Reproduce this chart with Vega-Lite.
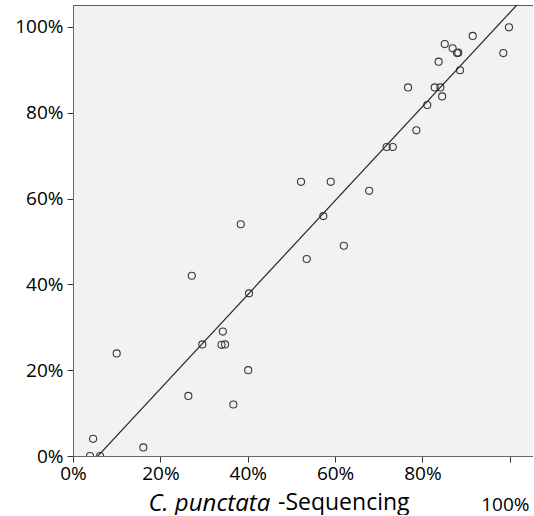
{
  "$schema": "https://vega.github.io/schema/vega-lite/v6.json",
  "width": 460,
  "height": 451,
  "padding": {"left": 5, "top": 5, "right": 0, "bottom": 0},
  "config": {
    "view": {"fill": "#f2f2f2", "stroke": "#5a5a5a", "strokeWidth": 1},
    "font": "Open Sans"
  },
  "title": {
    "text": "-Sequencing",
    "orient": "bottom",
    "anchor": "start",
    "frame": "group",
    "dx": 205,
    "dy": -16,
    "fontSize": 23,
    "fontWeight": "normal",
    "font": "Open Sans",
    "color": "#000000",
    "baseline": "middle"
  },
  "layer": [
    {
      "data": {
        "values": [
          {"seq": 0.100, "ref": 0.239},
          {"seq": 0.046, "ref": 0.040},
          {"seq": 0.039, "ref": 0.000},
          {"seq": 0.062, "ref": 0.000},
          {"seq": 0.161, "ref": 0.020},
          {"seq": 0.296, "ref": 0.260},
          {"seq": 0.340, "ref": 0.259},
          {"seq": 0.348, "ref": 0.260},
          {"seq": 0.401, "ref": 0.200},
          {"seq": 0.264, "ref": 0.140},
          {"seq": 0.367, "ref": 0.120},
          {"seq": 0.343, "ref": 0.290},
          {"seq": 0.403, "ref": 0.379},
          {"seq": 0.272, "ref": 0.420},
          {"seq": 0.384, "ref": 0.540},
          {"seq": 0.522, "ref": 0.639},
          {"seq": 0.590, "ref": 0.639},
          {"seq": 0.573, "ref": 0.559},
          {"seq": 0.620, "ref": 0.490},
          {"seq": 0.535, "ref": 0.459},
          {"seq": 0.678, "ref": 0.618},
          {"seq": 0.998, "ref": 0.999},
          {"seq": 0.985, "ref": 0.939},
          {"seq": 0.915, "ref": 0.979},
          {"seq": 0.851, "ref": 0.960},
          {"seq": 0.869, "ref": 0.950},
          {"seq": 0.879, "ref": 0.939},
          {"seq": 0.882, "ref": 0.940},
          {"seq": 0.837, "ref": 0.919},
          {"seq": 0.886, "ref": 0.899},
          {"seq": 0.767, "ref": 0.859},
          {"seq": 0.828, "ref": 0.859},
          {"seq": 0.841, "ref": 0.859},
          {"seq": 0.845, "ref": 0.838},
          {"seq": 0.811, "ref": 0.818},
          {"seq": 0.786, "ref": 0.759},
          {"seq": 0.718, "ref": 0.720},
          {"seq": 0.732, "ref": 0.720}
        ]
      },
      "mark": {"type": "point", "shape": "circle", "filled": false, "size": 50, "stroke": "#3a3a3a", "strokeWidth": 1.1, "opacity": 1, "clip": true},
      "encoding": {
        "x": {
          "field": "seq",
          "type": "quantitative",
          "scale": {"domain": [0, 1.053], "nice": false, "zero": false},
          "axis": {
            "values": [0, 0.2, 0.4, 0.6, 0.8, 1],
            "format": ".0%",
            "grid": false,
            "title": "C. punctata",
            "titleFont": "Open Sans",
            "titleFontStyle": "italic",
            "titleFontSize": 24,
            "titleFontWeight": "normal",
            "titleColor": "#000000",
            "titleAlign": "left",
            "titleBaseline": "middle",
            "titleX": 75,
            "titleY": 47,
            "labelFont": "Open Sans",
            "labelFontSize": 19,
            "labelColor": "#000000",
            "labelFlush": false,
            "labelOverlap": false,
            "labelPadding": {"condition": {"test": "datum.value == 1", "value": 33}, "value": 2},
            "labelOffset": {"condition": {"test": "datum.value == 1", "value": -5}, "value": 0},
            "tickSize": 6,
            "tickColor": "#333333",
            "domainColor": "#666666"
          }
        },
        "y": {
          "field": "ref",
          "type": "quantitative",
          "scale": {"domain": [0, 1.051], "nice": false, "zero": false},
          "axis": {
            "values": [0, 0.2, 0.4, 0.6, 0.8, 1],
            "format": ".0%",
            "grid": false,
            "title": null,
            "labelFont": "Open Sans",
            "labelFontSize": 19,
            "labelColor": "#000000",
            "labelPadding": 4,
            "tickSize": 6,
            "tickColor": "#333333",
            "domainColor": "#666666",
            "minExtent": 68,
            "maxExtent": 68
          }
        }
      }
    },
    {
      "data": {"values": [{"seq": 0, "ref": -0.0625}, {"seq": 1.053, "ref": 1.0915}]},
      "mark": {"type": "line", "color": "#262626", "strokeWidth": 1.2, "clip": true},
      "encoding": {
        "x": {"field": "seq", "type": "quantitative"},
        "y": {"field": "ref", "type": "quantitative"}
      }
    }
  ]
}
